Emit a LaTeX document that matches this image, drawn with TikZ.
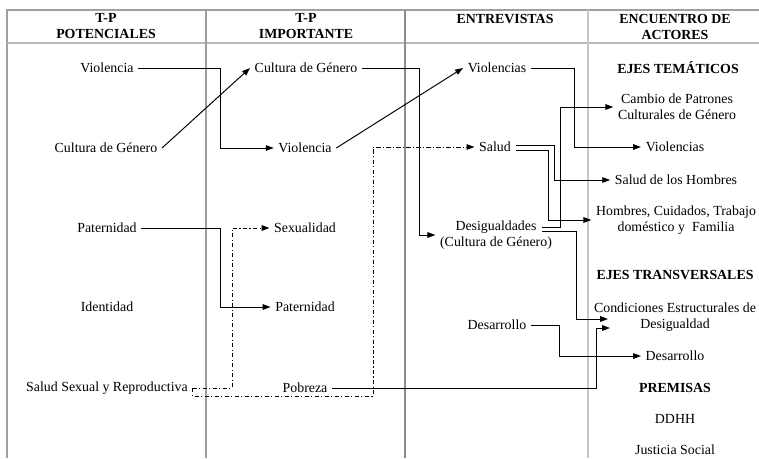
\documentclass[tikz,border=0pt]{standalone}
\usepackage{fontspec}
\setmainfont{Liberation Serif}
\usetikzlibrary{arrows.meta}

\tikzset{
  lbl/.style={font=\fontsize{7.9}{9.1}\selectfont, inner sep=2.5pt, align=center},
  hdr/.style={lbl, font=\fontsize{7.9}{9.1}\selectfont\bfseries},
  arr/.style={-{Triangle[length=4.5pt,width=3.2pt]}, line width=0.55pt},
  dd/.style={arr, dash pattern=on 2.5pt off 1.3pt on 0.6pt off 1.3pt},
  grid/.style={gray!75, line width=0.6pt}
}

\begin{document}
\begin{tikzpicture}[x=0.02cm,y=-0.02cm]
    \useasboundingbox (0,0) rectangle (759,458);

    % Table: frame and columns
    \draw[grid] (7,458) -- (7,10) -- (759,10);
    \draw[gray!55, line width=1.1pt] (7,43) -- (759,43);
    \draw[grid] (206,10) -- (206,458);
    \draw[gray!90, line width=0.6pt] (405,10) -- (405,458);
    \draw[gray!45, line width=1.2pt] (588,10) -- (588,458);

    % Headers
    \node[hdr] (h1) at (106,26) {T-P\\POTENCIALES};
    \node[hdr] (h2) at (306,26) {T-P\\IMPORTANTE};
    \node[hdr] (h3) at (505,19) {ENTREVISTAS};
    \node[hdr] (h4) at (675,27) {ENCUENTRO DE\\ACTORES};

    % First column: T-P potenciales
    \node[lbl] (pviol) at (107,68) {Violencia};
    \node[lbl] (pcult) at (106,148) {Cultura de Género};
    \node[lbl] (ppat) at (107,228) {Paternidad};
    \node[lbl] (pident) at (107,307) {Identidad};
    \node[lbl] (pssr) at (107,388) {Salud Sexual y Reproductiva};

    % Second column: T-P importante
    \node[lbl] (icult) at (306,68) {Cultura de Género};
    \node[lbl] (iviol) at (305,148) {Violencia};
    \node[lbl] (isex) at (305,228) {Sexualidad};
    \node[lbl] (ipat) at (305,307) {Paternidad};
    \node[lbl] (ipob) at (305,388) {Pobreza};

    % Third column: entrevistas
    \node[lbl] (eviol) at (497,68) {Violencias};
    \node[lbl] (esal) at (495,147) {Salud};
    \node[lbl] (edes) at (496,235) {Desigualdades\\(Cultura de Género)};
    \node[lbl] (edesa) at (497,325) {Desarrollo};

    % Fourth column: encuentro de actores
    \node[hdr] (ejtem) at (678,68) {EJES TEMÁTICOS};
    \node[lbl] (acamb) at (677,107) {Cambio de Patrones\\Culturales de Género};
    \node[lbl] (aviol) at (675,147) {Violencias};
    \node[lbl] (asal) at (676,180) {Salud de los Hombres};
    \node[lbl] (ahom) at (676,220) {Hombres, Cuidados, Trabajo\\doméstico y~ Familia};
    \node[hdr] (ejtra) at (675,275) {EJES TRANSVERSALES};
    \node[lbl] (acond) at (675,317) {Condiciones Estructurales de\\Desigualdad};
    \node[lbl] (adesa) at (675,356) {Desarrollo};
    \node[hdr] (prem) at (675,388) {PREMISAS};
    \node[lbl] (ddhh) at (675,419) {DDHH};
    \node[lbl] (just) at (675,450) {Justicia Social};

    % Lanes for the vertical runs
    \coordinate (ln1) at (220,0);
    \coordinate (ln2) at (419,0);
    \coordinate (ln3) at (574,0);
    \coordinate (ln4) at (232,0);
    \coordinate (ln5) at (554,0);
    \coordinate (ln6) at (548,0);
    \coordinate (ln7) at (560,0);
    \coordinate (ln8) at (576,0);
    \coordinate (ln9) at (559,0);
    \coordinate (ln10) at (596,0);
    \coordinate (es1) at ([shift={(0,-2)}]esal.east);
    \coordinate (es2) at ([shift={(0,3)}]esal.east);
    \coordinate (ed1) at (542,227);
    \coordinate (ed2) at (542,231);
    \coordinate (dlow) at (373,396);
    \coordinate (cd1) at (608,319);
    \coordinate (cd2) at (610,328);

    % Solid connectors
    \draw[arr] (pviol.east) -- (pviol.east -| ln1) |- (iviol.west);
    \draw[arr] (pcult.east) -- (icult.west);
    \draw[arr] (ppat.east) -- (ppat.east -| ln1) |- (ipat.west);
    \draw[arr] (icult.east) -- (icult.east -| ln2) |- (edes.west);
    \draw[arr] (iviol.east) -- (eviol.west);
    \draw[arr] (eviol.east) -- (eviol.east -| ln3) |- (aviol.west);
    \draw[arr] (es1) -- (es1 -| ln5) |- (asal.west);
    \draw[arr] (es2) -- (es2 -| ln6) |- (ahom.west);
    \draw[arr] (ed1) -- (ed1 -| ln7) |- (acamb.west);
    \draw[arr] (ed2) -- (ed2 -| ln8) |- (cd1);
    \draw[arr] (edesa.east) -- (edesa.east -| ln9) |- (adesa.west);
    \draw[arr] (ipob.east) -- (ipob.east -| ln10) |- (cd2);

    % Dash-dot connectors
    \draw[dd] (pssr.east) -- (pssr.east -| ln4) |- (isex.west);
    \draw[dd] (pssr.east) |- (dlow) |- (esal.west);

\end{tikzpicture}
\end{document}
